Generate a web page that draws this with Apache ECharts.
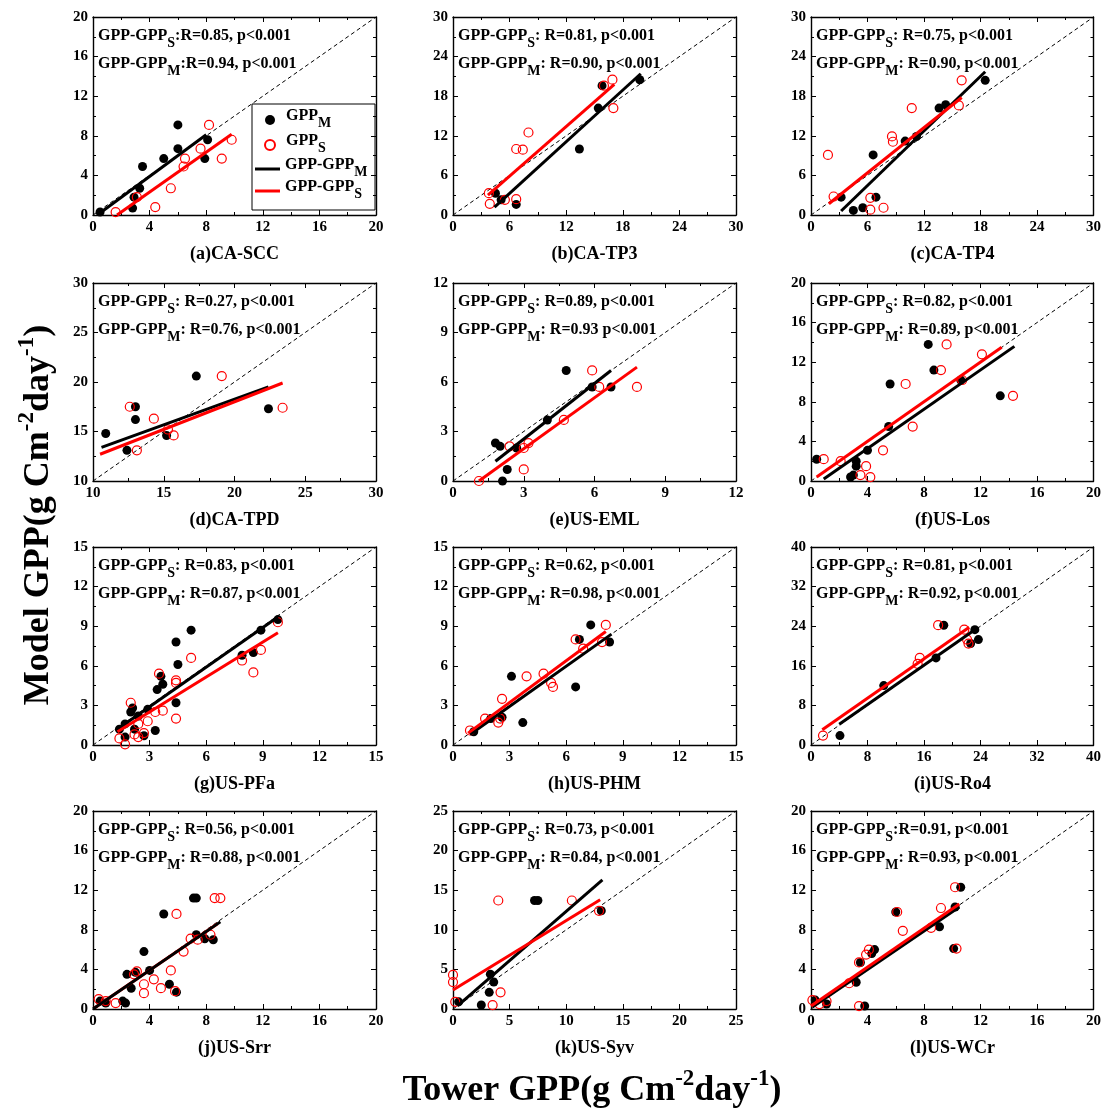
<!DOCTYPE html>
<html>
<head>
<meta charset="utf-8">
<script src="https://cdn.jsdelivr.net/npm/echarts@6/dist/echarts.min.js"></script>
<style>
html,body{margin:0;padding:0;background:#fff}
#chart{width:1104px;height:1111px}
</style>
</head>
<body>
<div id="chart"></div>
<script>
// ---- site names and axis ranges ----
const siteTitles = ['(a)CA-SCC','(b)CA-TP3','(c)CA-TP4','(d)CA-TPD','(e)US-EML','(f)US-Los',
                    '(g)US-PFa','(h)US-PHM','(i)US-Ro4','(j)US-Srr','(k)US-Syv','(l)US-WCr'];
const axisMin  = [0, 0, 0, 10, 0, 0, 0, 0, 0, 0, 0, 0];
const axisMax  = [20, 30, 30, 30, 12, 20, 15, 15, 40, 20, 25, 20];
const axisStep = [4, 6, 6, 5, 3, 4, 3, 3, 8, 4, 5, 4];

// ---- correlation statements ----
const statS = [':R=0.85, p<0.001', ': R=0.81, p<0.001', ': R=0.75, p<0.001', ': R=0.27, p<0.001',
               ': R=0.89, p<0.001', ': R=0.82, p<0.001', ': R=0.83, p<0.001', ': R=0.62, p<0.001',
               ': R=0.81, p<0.001', ': R=0.56, p<0.001', ': R=0.73, p<0.001', ':R=0.91, p<0.001'];
const statM = [':R=0.94, p<0.001', ': R=0.90, p<0.001', ': R=0.90, p<0.001', ': R=0.76, p<0.001',
               ': R=0.93 p<0.001', ': R=0.89, p<0.001', ': R=0.87, p<0.001', ': R=0.98, p<0.001',
               ': R=0.92, p<0.001', ': R=0.88, p<0.001', ': R=0.84, p<0.001', ': R=0.93, p<0.001'];

// ---- [tower GPP, model GPP] pairs; fit lines given by their two end points ----
const gppM_SCC = [[0.5,0.3],[2.8,0.7],[2.9,1.8],[3.3,2.7],[3.5,4.9],[5.0,5.7],[6.0,9.1],[6.0,6.7],[7.9,5.7],[8.1,7.6]];
const gppS_SCC = [[1.6,0.3],[3.1,1.8],[4.4,0.8],[5.5,2.7],[6.4,4.9],[6.5,5.7],[7.6,6.7],[8.2,9.1],[9.1,5.7],[9.8,7.6]];
const fitM_SCC = [[0.3,0],[8.0,8.1]];
const fitS_SCC = [[1.7,0],[9.8,8.15]];

const gppM_TP3 = [[4.5,3.3],[5.1,2.3],[6.7,1.6],[13.4,10.0],[15.4,16.2],[15.8,19.6],[19.8,20.5]];
const gppS_TP3 = [[3.8,3.3],[3.9,1.7],[5.5,2.3],[6.7,2.4],[6.7,10.0],[7.4,9.9],[8.0,12.5],[16.0,19.6],[16.9,20.5],[17.0,16.2]];
const fitM_TP3 = [[4.4,1.2],[19.9,21.4]];
const fitS_TP3 = [[3.7,3.0],[17.1,19.8]];

const gppM_TP4 = [[3.2,2.7],[4.5,0.7],[5.5,1.1],[6.6,9.1],[6.9,2.7],[10.0,11.2],[11.2,11.9],[13.6,16.2],[14.3,16.7],[18.5,20.4]];
const gppS_TP4 = [[1.8,9.1],[2.4,2.8],[6.3,2.6],[6.3,0.8],[7.7,1.1],[8.6,11.9],[8.7,11.1],[10.7,16.2],[15.7,16.6],[16.0,20.4]];
const fitM_TP4 = [[3.2,0.6],[18.5,21.7]];
const fitS_TP4 = [[1.9,1.7],[16.0,17.8]];

const gppM_TPD = [[10.9,14.8],[12.4,13.1],[13.0,17.5],[13.0,16.2],[15.2,14.6],[17.3,20.6],[22.4,17.3]];
const gppS_TPD = [[12.6,17.5],[13.1,13.1],[14.3,16.3],[15.3,15.2],[15.7,14.6],[19.1,20.6],[23.4,17.4]];
const fitM_TPD = [[10.6,13.4],[22.4,19.5]];
const fitS_TPD = [[10.5,12.7],[23.4,19.9]];

const gppM_EML = [[1.8,2.3],[2.0,2.1],[2.1,0],[2.3,0.7],[2.7,2.0],[4.0,3.7],[4.8,6.7],[5.9,5.7],[6.7,5.7]];
const gppS_EML = [[1.1,0],[2.4,2.1],[3.0,2.0],[3.0,0.7],[3.2,2.3],[4.7,3.7],[5.9,6.7],[6.2,5.7],[7.8,5.7]];
const fitM_EML = [[1.8,1.2],[6.7,6.7]];
const fitS_EML = [[1.1,0],[7.8,6.9]];

const gppM_LOS = [[0.4,2.2],[2.8,0.4],[3.0,0.6],[3.2,2.0],[3.2,1.5],[4.0,3.1],[5.6,9.8],[5.5,5.5],[8.3,13.8],[8.7,11.2],[10.6,10.2],[13.4,8.6]];
const gppS_LOS = [[0.9,2.2],[2.1,2.0],[3.5,0.6],[3.9,1.5],[4.2,0.4],[5.1,3.1],[7.2,5.5],[6.7,9.8],[9.2,11.2],[9.6,13.8],[10.7,10.2],[12.1,12.8],[14.3,8.6]];
const fitM_LOS = [[0.9,0.2],[14.4,13.6]];
const fitS_LOS = [[0.4,0.4],[13.5,13.5]];

const gppM_PFA = [[1.4,1.2],[1.7,1.6],[1.7,0.6],[2.0,2.5],[2.1,2.8],[2.2,1.2],[2.4,2.2],[2.7,0.7],[2.9,2.7],[3.3,1.1],[3.4,4.2],
                  [3.6,5.2],[3.7,4.6],[4.4,3.2],[4.5,6.1],[4.4,7.8],[5.2,8.7],[7.9,6.8],[8.5,7.0],[8.9,8.7],[9.8,9.5]];
const gppS_PFA = [[1.4,0.5],[1.7,0.05],[2.0,3.2],[2.2,0.8],[2.4,0.6],[2.4,1.6],[2.7,0.9],[2.9,1.8],[3.3,2.5],[3.5,5.4],
                  [3.7,2.6],[4.4,4.9],[4.4,4.7],[4.4,2.0],[5.2,6.6],[7.9,6.4],[8.5,5.5],[8.9,7.2],[9.8,9.3]];
const fitM_PFA = [[1.2,1.1],[9.8,9.7]];
const fitS_PFA = [[1.3,1.0],[9.8,8.5]];

const gppM_PHM = [[1.1,1.0],[2.0,2.0],[2.6,2.1],[3.1,5.2],[3.7,1.7],[6.5,4.4],[6.7,8.0],[7.3,9.1],[8.3,7.8]];
const gppS_PHM = [[0.9,1.1],[1.7,2.0],[2.4,1.7],[2.5,2.0],[2.6,3.5],[3.9,5.2],[4.8,5.4],[5.2,4.7],[5.3,4.4],[6.5,8.0],[6.9,7.3],[7.9,7.8],[8.1,9.1]];
const fitM_PHM = [[0.9,0.8],[8.4,8.4]];
const fitS_PHM = [[0.8,0.9],[8.1,8.6]];

const gppM_RO4 = [[4.1,1.9],[10.3,12.0],[17.7,17.6],[18.8,24.2],[22.6,20.5],[23.2,23.3],[23.7,21.3]];
const gppS_RO4 = [[1.7,1.9],[15.1,16.4],[15.4,17.6],[18.0,24.2],[21.7,23.3],[22.1,21.3],[22.3,20.5]];
const fitM_RO4 = [[4.0,4.2],[23.4,23.5]];
const fitS_RO4 = [[1.6,3.1],[22.4,23.8]];

const gppM_SRR = [[0.5,0.8],[0.9,0.6],[2.1,0.8],[2.3,0.6],[2.4,3.5],[2.7,2.1],[3.0,3.7],[3.6,5.8],[4.0,3.9],[5.0,9.6],[5.4,2.5],
                  [5.9,1.7],[7.1,11.2],[7.3,11.2],[7.3,7.5],[7.9,7.1],[8.5,7.0]];
const gppS_SRR = [[0.4,1.0],[0.9,0.8],[1.6,0.6],[2.9,3.5],[3.1,3.8],[3.6,2.5],[3.6,1.6],[4.3,3.0],[4.8,2.1],[5.5,3.9],[5.8,1.8],
                  [6.4,5.8],[5.9,9.6],[6.9,7.1],[7.4,7.0],[8.3,7.5],[8.6,11.2],[9.0,11.2]];
const fitM_SRR = [[0,0],[9.0,8.8]];
const fitS_SRR = [[0.1,0.1],[8.8,8.6]];

const gppM_SYV = [[0.5,0.9],[2.5,0.5],[3.2,2.1],[3.3,4.4],[3.6,3.4],[7.2,13.7],[7.5,13.7],[13.1,12.4]];
const gppS_SYV = [[0,4.3],[0,3.4],[0.2,0.9],[3.5,0.5],[4.2,2.1],[4.0,13.7],[10.5,13.7],[12.9,12.4]];
const fitM_SYV = [[0.4,0.4],[13.2,16.3]];
const fitS_SYV = [[0,2.4],[13.0,13.8]];

const gppM_WCR = [[0.3,0.9],[1.1,0.5],[3.2,2.7],[3.5,4.7],[3.8,0.3],[4.3,5.6],[4.5,6.0],[6.0,9.8],[9.1,8.3],[10.1,6.1],[10.2,10.3],[10.6,12.3]];
const gppS_WCR = [[0.1,0.9],[0.6,0.5],[1.1,0.8],[2.7,2.6],[3.4,0.3],[3.4,4.7],[3.9,5.5],[4.1,6.0],[6.1,9.8],[6.5,7.9],[8.5,8.2],[9.2,10.2],[10.2,12.3],[10.3,6.1]];
const fitM_WCR = [[0.1,0.2],[10.5,10.3]];
const fitS_WCR = [[0,0.3],[10.5,10.6]];

const pointsM = [gppM_SCC, gppM_TP3, gppM_TP4, gppM_TPD, gppM_EML, gppM_LOS, gppM_PFA, gppM_PHM, gppM_RO4, gppM_SRR, gppM_SYV, gppM_WCR];
const pointsS = [gppS_SCC, gppS_TP3, gppS_TP4, gppS_TPD, gppS_EML, gppS_LOS, gppS_PFA, gppS_PHM, gppS_RO4, gppS_SRR, gppS_SYV, gppS_WCR];
const fitsM   = [fitM_SCC, fitM_TP3, fitM_TP4, fitM_TPD, fitM_EML, fitM_LOS, fitM_PFA, fitM_PHM, fitM_RO4, fitM_SRR, fitM_SYV, fitM_WCR];
const fitsS   = [fitS_SCC, fitS_TP3, fitS_TP4, fitS_TPD, fitS_EML, fitS_LOS, fitS_PFA, fitS_PHM, fitS_RO4, fitS_SRR, fitS_SYV, fitS_WCR];

// ---- layout ----
const FONT = '"Liberation Serif", "Times New Roman", serif';
const COL_LEFT = [93, 453, 811];
const ROW_TOP = [17, 283, 547, 811];
const PW = 283, PH = 198;
const BLACK_FIT_ON_TOP = [9];

const tickLabel = { show: true, color: '#000', fontFamily: FONT, fontWeight: 'bold', fontSize: 15 };

// rich styles for subscripts (S / M) in statements and legend
function subRich(base, sub, lift) {
  return {
    b: { fontFamily: FONT, fontWeight: 'bold', fontSize: base, color: '#000', lineHeight: base + 4,
         verticalAlign: 'bottom', padding: [0, 0, lift, 0] },
    s: { fontFamily: FONT, fontWeight: 'bold', fontSize: sub, color: '#000', lineHeight: sub + 4,
         verticalAlign: 'bottom' }
  };
}
const statRich = subRich(16, 14, 6);
const legendRich = subRich(16, 14, 6);

const grids = [], xAxes = [], yAxes = [], series = [], graphics = [];

siteTitles.forEach((title, i) => {
  const col = i % 3, row = Math.floor(i / 3);
  const left = COL_LEFT[col], top = ROW_TOP[row];
  grids.push({ left: left, top: top, width: PW, height: PH, containLabel: false });

  const common = {
    type: 'value', gridIndex: i, min: axisMin[i], max: axisMax[i], interval: axisStep[i],
    splitLine: { show: false },
    axisLine: { show: true, onZero: false, lineStyle: { color: '#000', width: 1.4 } },
    axisTick: { show: true, inside: true, length: 5, lineStyle: { color: '#000', width: 1 } },
    minorTick: { show: true, splitNumber: 2, length: 3, lineStyle: { color: '#000', width: 1 } },
    minorSplitLine: { show: false }
  };
  xAxes.push(Object.assign({}, common, { position: 'bottom', axisLabel: Object.assign({}, tickLabel, { margin: 5 }) }));
  xAxes.push(Object.assign({}, common, { position: 'top', axisLabel: { show: false } }));
  yAxes.push(Object.assign({}, common, { position: 'left', axisLabel: Object.assign({}, tickLabel, { margin: 5 }) }));
  yAxes.push(Object.assign({}, common, { position: 'right', axisLabel: { show: false } }));

  const xi = 2 * i, yi = 2 * i;
  const blackTop = BLACK_FIT_ON_TOP.indexOf(i) >= 0;

  // 1:1 line
  series.push({
    type: 'line', xAxisIndex: xi, yAxisIndex: yi, silent: true, symbol: 'none', z: 2,
    data: [[axisMin[i], axisMin[i]], [axisMax[i], axisMax[i]]],
    lineStyle: { color: '#000', width: 1, type: [4, 3] }
  });
  series.push({
    type: 'scatter', name: 'GPP_M', xAxisIndex: xi, yAxisIndex: yi, data: pointsM[i],
    symbol: 'circle', symbolSize: 9, z: 3, itemStyle: { color: '#000', opacity: 1 }
  });
  series.push({
    type: 'scatter', name: 'GPP_S', xAxisIndex: xi, yAxisIndex: yi, data: pointsS[i],
    symbol: 'circle', symbolSize: 9, z: 4,
    itemStyle: { color: 'rgba(255,255,255,0)', borderColor: '#ff0000', borderWidth: 1.2, opacity: 1 }
  });
  series.push({
    type: 'line', name: 'GPP-GPP_M', xAxisIndex: xi, yAxisIndex: yi, data: fitsM[i],
    symbol: 'none', z: blackTop ? 7 : 5, color: '#000',
    lineStyle: { color: '#000', width: 3 }
  });
  series.push({
    type: 'line', name: 'GPP-GPP_S', xAxisIndex: xi, yAxisIndex: yi, data: fitsS[i],
    symbol: 'none', z: 6, color: '#ff0000',
    lineStyle: { color: '#ff0000', width: 3 }
  });

  // correlation statements
  graphics.push({
    type: 'text', x: left + 5, y: top + 23, z: 10,
    style: { text: '{b|GPP-GPP}{s|S}{b|' + statS[i] + '}', rich: statRich, align: 'left', verticalAlign: 'middle' }
  });
  graphics.push({
    type: 'text', x: left + 5, y: top + 51, z: 10,
    style: { text: '{b|GPP-GPP}{s|M}{b|' + statM[i] + '}', rich: statRich, align: 'left', verticalAlign: 'middle' }
  });
  // site caption
  graphics.push({
    type: 'text', x: left + PW / 2, y: top + PH + 39, z: 10,
    style: { text: title, fill: '#000', font: 'bold 18px ' + FONT, align: 'center', verticalAlign: 'middle' }
  });
});

// legend frame inside the first panel
graphics.push({
  type: 'rect', z: 1, shape: { x: 252, y: 104, width: 123, height: 106 },
  style: { fill: 'none', stroke: '#000', lineWidth: 1 }
});

// shared axis titles
const titleRich = {
  t: { fontFamily: FONT, fontWeight: 'bold', fontSize: 36, color: '#000', lineHeight: 40, verticalAlign: 'top', padding: [5, 0, 0, 0] },
  u: { fontFamily: FONT, fontWeight: 'bold', fontSize: 23, color: '#000', lineHeight: 26, verticalAlign: 'top' }
};
const unitText = '{t|GPP(g Cm}{u|-2}{t|day}{u|-1}{t|)}';
graphics.push({
  type: 'text', x: 36, y: 515, rotation: Math.PI / 2, z: 10,
  style: { text: '{t|Model }' + unitText, rich: titleRich, align: 'center', verticalAlign: 'middle' }
});
graphics.push({
  type: 'text', x: 592, y: 1088, z: 10,
  style: { text: '{t|Tower }' + unitText, rich: titleRich, align: 'center', verticalAlign: 'middle' }
});

function legendName(name) {
  const parts = name.split('_');
  return '{b|' + parts[0] + '}{s|' + parts[1] + '}';
}

const option = {
  animation: false,
  backgroundColor: '#fff',
  grid: grids,
  xAxis: xAxes,
  yAxis: yAxes,
  legend: [
    {
      data: [{ name: 'GPP_M', icon: 'circle' }, { name: 'GPP_S', icon: 'circle' }],
      orient: 'vertical', left: 264, top: 108, padding: 0, itemWidth: 10, itemHeight: 10, itemGap: 3,
      selectedMode: false, formatter: legendName,
      textStyle: { rich: legendRich, padding: [0, 0, 0, 6] }
    },
    {
      data: [{ name: 'GPP-GPP_M', icon: 'rect' }, { name: 'GPP-GPP_S', icon: 'rect' }],
      orient: 'vertical', left: 255, top: 157, padding: 0, itemWidth: 25, itemHeight: 3, itemGap: 0,
      selectedMode: false, formatter: legendName,
      textStyle: { rich: legendRich }
    }
  ],
  graphic: graphics,
  series: series
};

const chart = echarts.init(document.getElementById('chart'), null, { renderer: 'canvas' });
chart.setOption(option);
</script>
</body>
</html>
